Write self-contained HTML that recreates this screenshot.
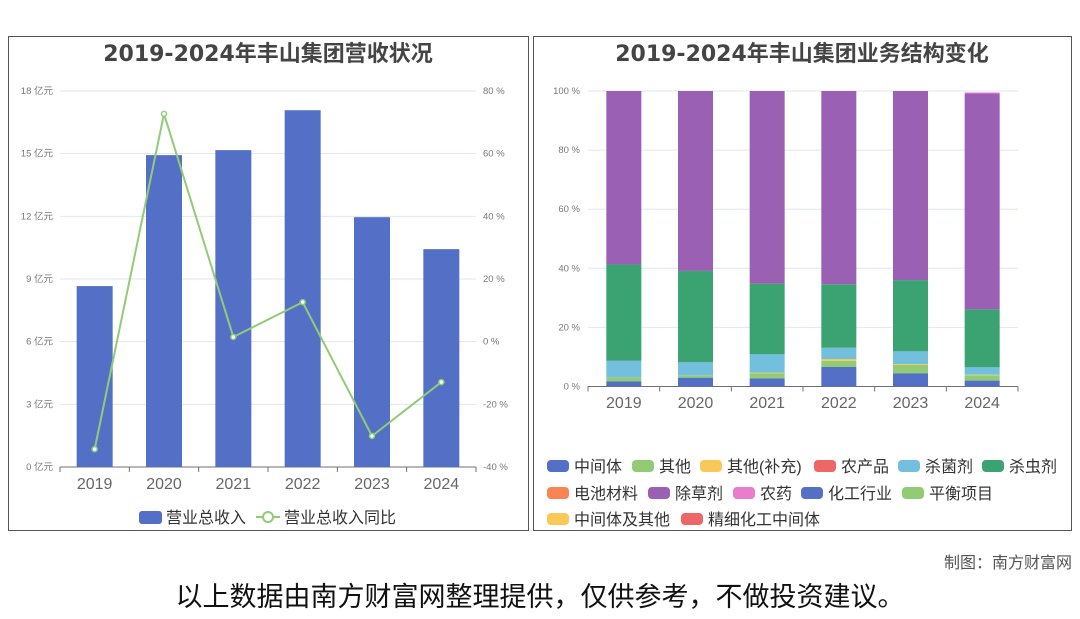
<!DOCTYPE html>
<html><head><meta charset="utf-8">
<style>
body{margin:0;width:1080px;height:614px;background:#fff;overflow:hidden;font-family:"Liberation Sans","Noto Sans CJK SC",sans-serif;}
svg text{font-family:"Liberation Sans","Noto Sans CJK SC",sans-serif;}
svg text.title{font-family:"DejaVu Sans","Noto Sans CJK SC",sans-serif;}
</style></head><body>
<svg width="1080" height="614">
<rect x="8.5" y="36.5" width="520" height="494" fill="none" stroke="#555"/>
<rect x="533.5" y="36.5" width="538" height="494" fill="none" stroke="#555"/>
<text class="title" x="268" y="61" text-anchor="middle" font-size="22" font-weight="bold" fill="#444">2019-2024年丰山集团营收状况</text>
<text class="title" x="802" y="61" text-anchor="middle" font-size="22" font-weight="bold" fill="#444">2019-2024年丰山集团业务结构变化</text>
<g id="left"></g>
<g id="right"></g>
<g>
<rect x="139" y="511" width="23" height="13" rx="3" fill="#5470c6"/>
<text x="166" y="523" font-size="16" fill="#333">营业总收入</text>
<line x1="256" y1="517" x2="280" y2="517" stroke="#91cc75" stroke-width="2"/>
<circle cx="268" cy="517" r="5" fill="#fff" stroke="#91cc75" stroke-width="2"/>
<text x="284" y="523" font-size="16" fill="#333">营业总收入同比</text>
</g>
<g id="rlegend"></g>
<text x="1072" y="568" text-anchor="end" font-size="16" fill="#555">制图：南方财富网</text>
<text x="540" y="606" text-anchor="middle" font-size="27" fill="#111">以上数据由南方财富网整理提供，仅供参考，不做投资建议。</text>
</svg>
<script>
const years=["2019","2020","2021","2022","2023","2024"];
const revenue=[8.66,14.93,15.17,17.08,11.96,10.43];
const yoy=[-34.3,72.7,1.5,12.6,-30.1,-12.9];
const leftTicks=[0,3,6,9,12,15,18];
const rightTicks=[-40,-20,0,20,40,60,80];
const segNames=["中间体","其他","其他(补充)","农产品","杀菌剂","杀虫剂","电池材料","除草剂","农药","化工行业","平衡项目","中间体及其他","精细化工中间体"];
const segColors=["#5470c6","#91cc75","#fac858","#ee6666","#73c0de","#3ba272","#fc8452","#9a60b4","#ea7ccc","#5470c6","#91cc75","#fac858","#ee6666"];
const sZJT=[1.7,3.0,2.8,6.6,4.5,2.0];
const sQT=[1.4,0.8,1.7,2.1,2.8,1.8];
const sQTBC=[0,0,0.2,0.6,0.3,0.2];
const sNCP=[0,0,0,0,0,0];
const sSJJ=[5.6,4.4,6.2,3.8,4.3,2.5];
const sSCJ=[32.6,30.9,23.9,21.5,24.1,19.6];
const sDCCL=[0,0,0,0,0,0];
const sCCJ=[58.7,60.9,65.2,65.4,64.0,73.1];
const sNY=[0,0,0,0,0,0.3];
const pctTicks=[0,20,40,60,80,100];
const NS="http://www.w3.org/2000/svg";
function mk(tag,attrs,parent,txt){const e=document.createElementNS(NS,tag);for(const k in attrs)e.setAttribute(k,attrs[k]);if(txt!==undefined)e.textContent=txt;parent.appendChild(e);return e;}
// left chart
const L=document.getElementById('left');
const lx0=60,lx1=476,ly0=467,ly1=91;
const bandL=(lx1-lx0)/years.length;
const xL=i=>lx0+bandL*(i+0.5);
const yL=v=>ly0-(v/18)*(ly0-ly1);
const yR=v=>ly0-((v+40)/120)*(ly0-ly1);
leftTicks.forEach(t=>{
 const g=mk('line',{x1:lx0,x2:lx1,y1:yL(t),y2:yL(t),stroke:t==0?'#6e7079':'#e0e6f1'},L);
 
 const tx=mk('text',{x:53,y:yL(t)+3,'text-anchor':'end','font-size':9.5,fill:'#777'},L,t+' 亿元');
 
});
rightTicks.forEach(t=>{
 const tx=mk('text',{x:483,y:yR(t)+3,'font-size':9.5,fill:'#777'},L,t+' %');
 
});
for(let i=0;i<=years.length;i++){const tk=mk('line',{x1:lx0+bandL*i,x2:lx0+bandL*i,y1:ly0,y2:ly0+5,stroke:'#6e7079'},L);}
years.forEach((y,i)=>{
 const b=mk('rect',{x:xL(i)-18,y:yL(revenue[i]),width:36,height:ly0-yL(revenue[i]),fill:'#5470c6'},L);
 
 const t=mk('text',{x:xL(i),y:489,'text-anchor':'middle','font-size':16,fill:'#666'},L,y);
 
});
const pl=mk('polyline',{points:yoy.map((v,i)=>xL(i)+','+yR(v)).join(' '),fill:'none',stroke:'#91cc75','stroke-width':2},L);

yoy.forEach((v,i)=>{const c=mk('circle',{cx:xL(i),cy:yR(v),r:2.5,fill:'#fff',stroke:'#91cc75','stroke-width':1.5},L);});
// right chart
const R=document.getElementById('right');
const rx0=588,rx1=1018,ry0=386.5,ry1=91;
const bandR=(rx1-rx0)/years.length;
const xR=i=>rx0+bandR*(i+0.5);
const yP=v=>ry0-(v/100)*(ry0-ry1);
pctTicks.forEach(t=>{
 const g=mk('line',{x1:rx0,x2:rx1,y1:yP(t),y2:yP(t),stroke:t==0?'#6e7079':'#e0e6f1'},R);
 
 const tx=mk('text',{x:580,y:yP(t)+3,'text-anchor':'end','font-size':9.5,fill:'#777'},R,t+' %');
 
});
for(let i=0;i<=years.length;i++){const tk=mk('line',{x1:rx0+bandR*i,x2:rx0+bandR*i,y1:ry0,y2:ry0+5,stroke:'#6e7079'},R);}
const series=[sZJT,sQT,sQTBC,sNCP,sSJJ,sSCJ,sDCCL,sCCJ,sNY];
years.forEach((y,i)=>{
 let acc=0;
 series.forEach((s,k)=>{
  const v=s[i];if(v<=0)return;
  const r=mk('rect',{x:xR(i)-17.5,y:yP(acc+v),width:35,height:yP(acc)-yP(acc+v),fill:segColors[k]},R);
  
  acc+=v;
 });
 const t=mk('text',{x:xR(i),y:408,'text-anchor':'middle','font-size':16,fill:'#666'},R,y);
 
});
const RL=document.getElementById('rlegend');
const legPos=[[547,466],[632,466],[700,466],[814,466],[898,466],[982,466],[547,493],[648,493],[733,493],[801,493],[902,493],[547,519],[681,519]];
segNames.forEach((n,k)=>{
 const [x,y]=legPos[k];
 const r=mk('rect',{x:x,y:y-6,width:22,height:12,rx:4,fill:segColors[k]},RL);
 
 const t=mk('text',{x:x+27,y:y+6,'font-size':16,fill:'#333'},RL,n);
 
});
</script>
</body></html>
